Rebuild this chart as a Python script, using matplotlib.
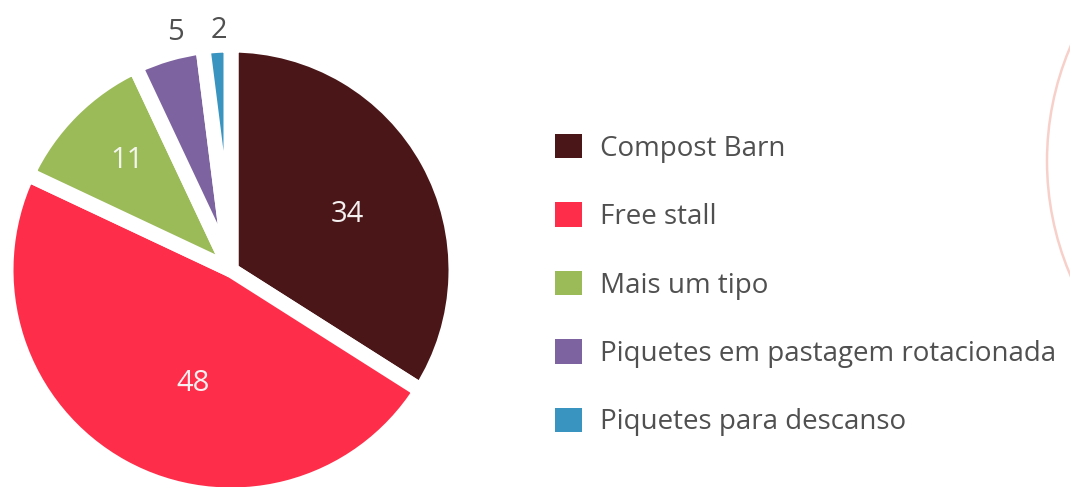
import matplotlib
matplotlib.use("Agg")
import matplotlib.pyplot as plt
from matplotlib.patches import Patch, Circle
import numpy as np

# ---- data ----
categories = ["Compost Barn", "Free stall", "Mais um tipo",
              "Piquetes em pastagem rotacionada", "Piquetes para descanso"]
values = [34, 48, 11, 5, 2]
colors = ["#4A1618", "#FE2E4A", "#9BBA58", "#7D63A0", "#3A94C0"]

# ---- style ----
plt.rcParams['font.family'] = ['Open Sans', 'DejaVu Sans']
W, H = 1070, 487
fig = plt.figure(figsize=(W / 100, H / 100), dpi=100)
ax = fig.add_axes([0, 0, 1, 1])

cx, cy, R = 231, 217, 225
wedges, _ = ax.pie(values, colors=colors, startangle=90, counterclock=False,
                   center=(cx, cy), radius=R,
                   wedgeprops=dict(edgecolor='white', linewidth=10.8,
                                   joinstyle='round'))

# label placement (fraction of radius, angle tweak in degrees)
label_r = [0.57, 0.53, 0.67, 1.085, 1.067]
label_dang = [-3.4, 10.2, -1.6, -3.0, -0.7]
label_col = ["#F4F0F0", "#F8F0F0", "#F4F6EE", "#505050", "#505050"]
for w, v, lr, da, lc in zip(wedges, values, label_r, label_dang, label_col):
    ang = np.deg2rad((w.theta1 + w.theta2) / 2 + da)
    ax.text(cx + lr * R * np.cos(ang), cy + lr * R * np.sin(ang), str(v),
            ha='center', va='center', fontsize=21, color=lc)

# decorative arc at right
ax.add_patch(Circle((1338, 487 - 161), 291, fill=False, edgecolor='#F8D0CA',
                    linewidth=1.8))

ax.set_xlim(0, W)
ax.set_ylim(0, H)
ax.set_aspect('equal')
ax.axis('off')

handles = [Patch(facecolor=c, edgecolor='none') for c in colors]
leg = fig.legend(handles, categories, loc='upper left',
                 bbox_to_anchor=(555 / W, 1 - 134 / H), frameon=False,
                 fontsize=20, handlelength=0.97, handleheight=0.97,
                 handletextpad=0.65, labelspacing=1.43, borderpad=0,
                 borderaxespad=0)
for t in leg.get_texts():
    t.set_color('#505050')

fig.savefig("out.png", dpi=100)
